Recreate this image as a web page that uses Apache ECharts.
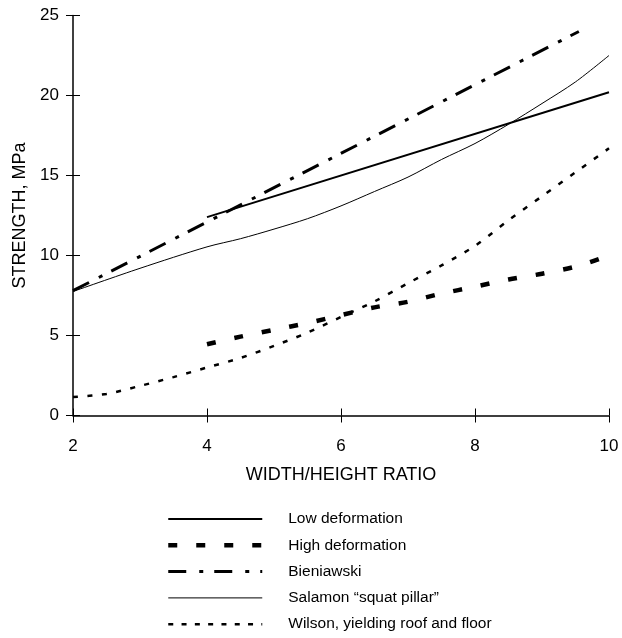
<!DOCTYPE html>
<html>
<head>
<meta charset="utf-8">
<script src="https://cdn.jsdelivr.net/npm/echarts@6/dist/echarts.min.js"></script>
<style>
  html, body { margin: 0; padding: 0; background: #fff; }
  #chart { width: 622px; height: 638px; }
</style>
</head>
<body>
<div id="chart"></div>
<script>
// Pillar strength vs. width/height ratio for five design formulas
const xTicks = [2, 4, 6, 8, 10];
const yTicks = [0, 5, 10, 15, 20, 25];

const lowX = [4, 10];
const lowY = [12.4, 20.2];

const highX = [4, 4.5, 5, 5.5, 6, 6.5, 7, 7.5, 8, 8.5, 9, 9.5, 9.85];
const highY = [4.45, 4.93, 5.36, 5.78, 6.27, 6.76, 7.11, 7.62, 8.05, 8.5, 8.86, 9.3, 9.78];

const bienX = [2, 9.55];
const bienY = [7.8, 24.0];

const salX = [2, 3, 4, 4.5, 5, 5.5, 6, 6.5, 7, 7.5, 8, 8.5, 9, 9.5, 10];
const salY = [7.75, 9.2, 10.54, 11.05, 11.65, 12.3, 13.1, 14.0, 14.9, 16.0, 17.0, 18.2, 19.5, 20.85, 22.5];

const wilX = [2, 2.5, 3, 3.5, 4, 4.5, 5, 5.5, 6, 6.5, 7, 7.5, 8, 8.5, 9, 9.5, 10];
const wilY = [1.15, 1.35, 1.85, 2.4, 3.0, 3.6, 4.35, 5.18, 6.16, 7.13, 8.27, 9.38, 10.6, 12.2, 13.7, 15.2, 16.7];

const names = ['Low deformation', 'High deformation', 'Bieniawski', 'Salamon \u201csquat pillar\u201d', 'Wilson, yielding roof and floor'];

function pairs(xs, ys) { return xs.map((x, i) => [x, ys[i]]); }

const FONT = '"Liberation Sans", Arial, sans-serif';
const chart = echarts.init(document.getElementById('chart'), null, { renderer: 'canvas' });

const baseX = { type: 'value', min: xTicks[0], max: xTicks[xTicks.length - 1], interval: 2 };
const baseY = { type: 'value', min: yTicks[0], max: yTicks[yTicks.length - 1], interval: 5 };

// stroke styles shared by each curve and its legend sample
const styles = [
  { width: 2, type: 'solid', legendType: 'solid' },
  { width: 4.5, type: [9, 19], legendType: [9, 19] },
  { width: 3, type: [18, 11, 4, 10], legendType: [18, 13, 4, 11] },
  { width: 1, type: 'solid', legendType: 'solid' },
  { width: 2.5, type: [5, 9.5], legendType: [5, 8.3] }
];

function lineSeries(i, data, smooth) {
  return {
    name: names[i],
    type: 'line',
    data: data,
    xAxisIndex: 0,
    yAxisIndex: 0,
    showSymbol: false,
    symbol: 'none',
    smooth: smooth,
    animation: false,
    clip: false,
    lineStyle: { color: '#000', width: styles[i].width, type: styles[i].type, cap: 'butt' }
  };
}

chart.setOption({
  backgroundColor: '#fff',
  animation: false,
  grid: { left: 73, right: 13, top: 15.5, bottom: 222.5 },
  xAxis: [
    Object.assign({}, baseX, {
      position: 'bottom',
      name: 'WIDTH/HEIGHT RATIO',
      nameLocation: 'middle',
      nameGap: 51,
      nameTextStyle: { fontFamily: FONT, fontSize: 18, color: '#000' },
      axisLine: { show: true, lineStyle: { color: '#000', width: 1.5 } },
      axisTick: { show: true, inside: false, length: 7, lineStyle: { color: '#000', width: 1 } },
      axisLabel: { margin: 22, fontFamily: FONT, fontSize: 17, color: '#000' },
      splitLine: { show: false }
    }),
    Object.assign({}, baseX, {
      position: 'bottom',
      axisLine: { show: false },
      axisTick: { show: true, inside: true, length: 7, lineStyle: { color: '#000', width: 1 } },
      axisLabel: { show: false },
      splitLine: { show: false }
    })
  ],
  yAxis: [
    Object.assign({}, baseY, {
      position: 'left',
      name: 'STRENGTH, MPa',
      nameLocation: 'middle',
      nameGap: 42,
      nameTextStyle: { fontFamily: FONT, fontSize: 18, color: '#000' },
      axisLine: { show: true, lineStyle: { color: '#000', width: 1.5 } },
      axisTick: { show: true, inside: false, length: 7, lineStyle: { color: '#000', width: 1 } },
      axisLabel: { margin: 14, fontFamily: FONT, fontSize: 17, color: '#000' },
      splitLine: { show: false }
    }),
    Object.assign({}, baseY, {
      position: 'left',
      axisLine: { show: false },
      axisTick: { show: true, inside: true, length: 7, lineStyle: { color: '#000', width: 1 } },
      axisLabel: { show: false },
      splitLine: { show: false }
    })
  ],
  legend: {
    orient: 'vertical',
    left: 166,
    top: 511,
    padding: 0,
    itemWidth: 94,
    itemHeight: 14,
    itemGap: 10.3,
    selectedMode: false,
    itemStyle: { opacity: 0, borderWidth: 0 },
    textStyle: { fontFamily: FONT, fontSize: 15.5, lineHeight: 16, color: '#000', padding: [0, 0, 0, 21] },
    data: names.map((n, i) => ({
      name: n,
      lineStyle: { color: '#000', width: styles[i].width, type: styles[i].legendType, cap: 'butt' }
    }))
  },
  series: [
    lineSeries(0, pairs(lowX, lowY), false),
    lineSeries(1, pairs(highX, highY), 0.3),
    lineSeries(2, pairs(bienX, bienY), false),
    lineSeries(3, pairs(salX, salY), 0.3),
    lineSeries(4, pairs(wilX, wilY), 0.3)
  ]
});
</script>
</body>
</html>
